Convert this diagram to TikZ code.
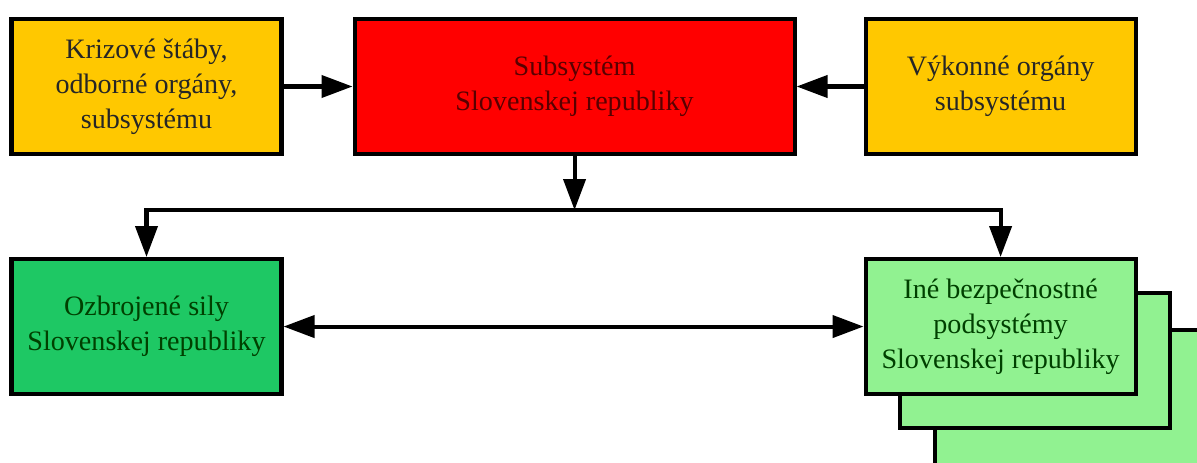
\documentclass[tikz,border=0pt]{standalone}
\usepackage{fontspec}
\setmainfont{Liberation Serif}
\usetikzlibrary{shapes,arrows.meta,positioning,backgrounds}

\definecolor{boxyellow}{RGB}{255,200,0}
\definecolor{boxred}{RGB}{255,0,0}
\definecolor{boxgreen}{RGB}{30,200,100}
\definecolor{boxlight}{RGB}{145,242,145}

\begin{document}
\begin{tikzpicture}[
    node distance=1.36cm,
    auto,
    line width=2.3pt,
    >={Triangle[length=0.62cm,width=0.44cm]},
    box/.style={rectangle,draw=black,line width=2.3pt,align=center,minimum height=2.7cm,font=\fontsize{16}{20}\selectfont},
    side node/.style={box,fill=boxyellow,minimum width=5.4cm,text=black!85},
    main node/.style={box,fill=boxred,minimum width=8.8cm,text=red!35!black},
    army node/.style={box,fill=boxgreen,minimum width=5.4cm,text=green!25!black},
    other node/.style={box,fill=boxlight,minimum width=5.4cm,text=green!25!black}
]
\useasboundingbox (0,0) rectangle (23.94,-9.24);

% Top row
\node[side node] at (2.93,-1.73) (kriz) {Krizové štáby,\\odborné orgány,\\subsystému};
\node[main node, right=1.38cm of kriz] (subsys) {Subsystém\\Slovenskej republiky};
\node[side node, right=1.34cm of subsys] (vykon) {Výkonné orgány\\subsystému};

% Bottom row
\node[army node, below=2.02cm of kriz] (ozb) {Ozbrojené sily\\Slovenskej republiky};
\node[other node, below=2.02cm of vykon] (ine) {Iné bezpečnostné\\podsystémy\\Slovenskej republiky};

% Stacked copies behind
\begin{scope}[on background layer]
\node[other node, xshift=1.38cm, yshift=-1.42cm] at (ine) (ine3) {};
\node[other node, xshift=0.68cm, yshift=-0.68cm] at (ine) (ine2) {};
\end{scope}

% Branch point
\coordinate[below=1.08cm of subsys] (split);

% Arrows
\draw[->] (kriz) -- (subsys);
\draw[->] (vykon) -- (subsys);
\draw[->] (subsys) -- (split);
\draw[->] (split) -| (ozb);
\draw[->] (split) -| (ine);
\draw[<->] (ozb) -- (ine);

\end{tikzpicture}
\end{document}
